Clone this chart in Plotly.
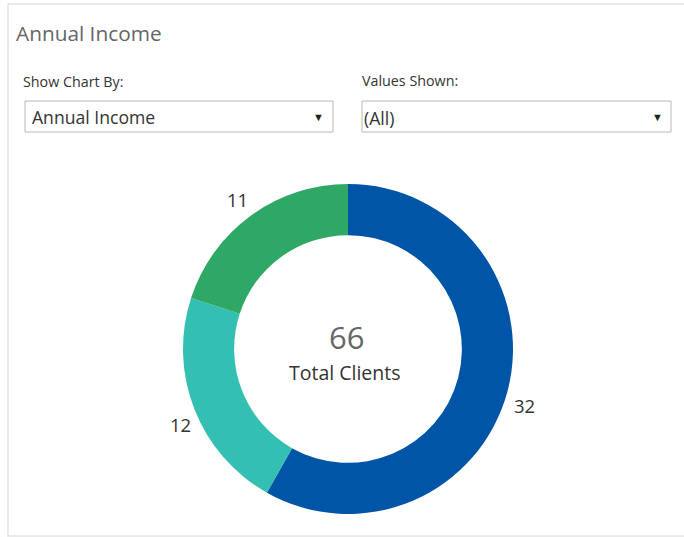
import plotly.graph_objects as go

# Client counts by annual income band
bands = ["High", "Middle", "Low"]
clients = [32, 12, 11]
band_colors = ["#0055a7", "#33bfb1", "#2fa866"]
total_clients = 66

# pixel spots for the value labels around the ring (same order as bands)
label_spots = [(524, 405), (180, 424), (237, 199)]

W, H = 684, 537
FONT = "Open Sans"


def px(x):
    return x / W


def py(y):
    return 1 - y / H


fig = go.Figure()

fig.add_trace(go.Pie(
    labels=bands,
    values=clients,
    sort=False,
    direction="clockwise",
    rotation=0,
    hole=0.69,
    marker=dict(colors=band_colors, line=dict(width=0)),
    textinfo="none",
    domain=dict(x=[px(348 - 165), px(348 + 165)], y=[py(349 + 165), py(349 - 165)]),
    showlegend=False,
    hoverinfo="label+value",
))

shapes = [
    # panel frame
    dict(type="rect", xref="paper", yref="paper",
         x0=px(8), x1=px(700), y0=py(536), y1=py(4),
         line=dict(color="#e3e3e3", width=1.5), layer="below"),
    # dropdown boxes
    dict(type="rect", xref="paper", yref="paper",
         x0=px(25), x1=px(333), y0=py(132), y1=py(101),
         line=dict(color="#b8b8b8", width=1)),
    dict(type="rect", xref="paper", yref="paper",
         x0=px(362), x1=px(671), y0=py(132), y1=py(101),
         line=dict(color="#b8b8b8", width=1)),
]

ann = []


def text(x, y, s, size, color, anchor="left", family=FONT):
    ann.append(dict(x=px(x), y=py(y), xref="paper", yref="paper", text=s,
                    showarrow=False, xanchor=anchor, yanchor="middle",
                    font=dict(family=family, size=size, color=color)))


text(14, 33, "Annual Income", 20.8, "#666666")
text(21, 81, "Show Chart By:", 14.3, "#333333")
text(360, 80, "Values Shown:", 14.3, "#333333")
text(30, 117, "Annual Income", 17.6, "#333333")
text(362, 118, "(All)", 17.6, "#333333")
text(318, 117, "▼", 11, "#222222", anchor="center")
text(657, 117, "▼", 11, "#222222", anchor="center")
text(346, 337, str(total_clients), 31, "#666666", anchor="center")
text(345, 372, "Total Clients", 19.5, "#333333", anchor="center")

for (lx, ly), v in zip(label_spots, clients):
    text(lx, ly, str(v), 18.5, "#333333", anchor="center")

fig.update_layout(
    width=W, height=H,
    margin=dict(l=0, r=0, t=0, b=0),
    paper_bgcolor="white",
    plot_bgcolor="white",
    shapes=shapes,
    annotations=ann,
)

fig.write_html("out.html", config={"displayModeBar": False})
